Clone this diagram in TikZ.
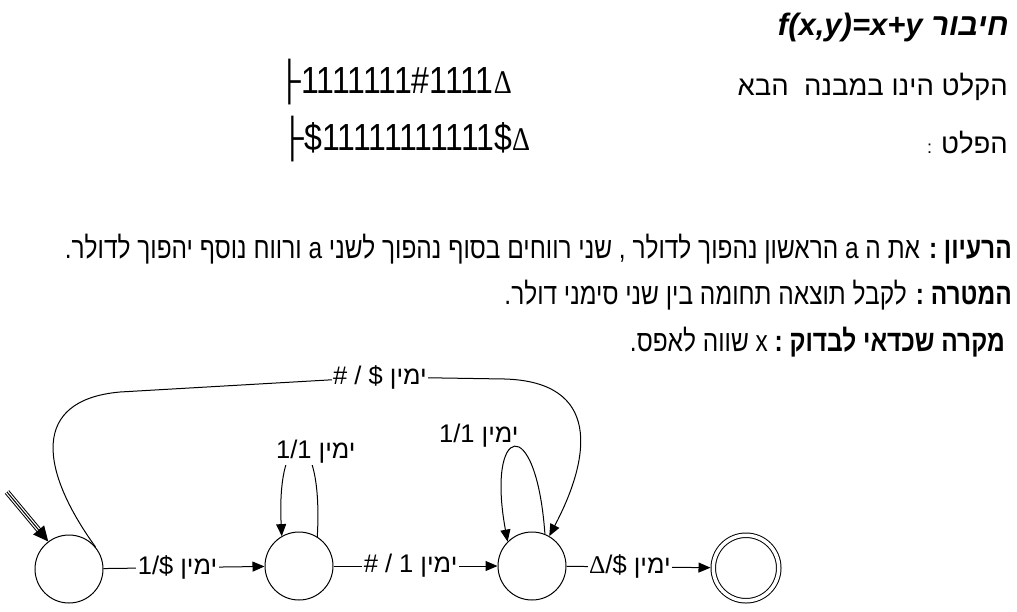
\documentclass[tikz,border=0pt]{standalone}
\usepackage{fontspec}
\usetikzlibrary{arrows.meta}
\setmainfont{Liberation Sans}
\newfontfamily\hebfont[Script=Hebrew]{Liberation Sans}
\newfontfamily\notefont[Script=Hebrew,FakeStretch=0.815]{Liberation Sans}
\newfontfamily\deltafont{Liberation Serif}
\newcommand\dlt{{\deltafont Δ}}
\newcommand\hebr[1]{{\hebfont\beginR #1\endR}}
\TeXXeTstate=1

\begin{document}
\begin{tikzpicture}[x=1pt,y=-1pt,
  state/.style={draw,circle,line width=1pt,minimum size=68pt,inner sep=0pt},
  final/.style={state,double,double distance=3.5pt,minimum size=65.5pt,outer sep=2.75pt},
  move/.style={line width=1pt,-{Triangle[length=12pt,width=10pt]}},
  lbl/.style={fill=white,inner sep=1.5pt,font=\fontsize{25.5}{27}\selectfont},
  head/.style={anchor=base east,inner sep=0pt,font=\hebfont\fontsize{27.5}{30}\selectfont},
  tape/.style={anchor=base west,inner sep=0pt,yscale=1.18,font=\fontsize{32}{34}\selectfont},
  note/.style={anchor=base east,inner sep=0pt,font=\notefont\fontsize{30}{32}\selectfont}]
\useasboundingbox (0,0) rectangle (1017,611);

% header
\node[anchor=base east,inner sep=0pt,font=\bfseries\itshape\fontsize{31}{33}\selectfont] (title) at (1009,35)
  {f(x,y)=x+y \hebr{חיבור}};
\node[head] (inhead) at (1008,95) {\beginR הקלט הינו במבנה\ \ הבא\endR};
\node[tape] (intape) at (278.7,93) {├1111111\#1111{\fontsize{28}{30}\selectfont\dlt}};
\node[head] (outhead) at (1008,153) {\beginR הפלט\hspace{9pt}{\fontsize{18}{18}\selectfont :}\endR};
\node[tape] (outtape) at (281.7,150) {├\$11111111111\${\fontsize{28}{30}\selectfont\dlt}};

% notes
\node[note] (idea) at (1012,258) {\beginR\textbf{הרעיון :} את ה a הראשון נהפוך לדולר , שני רווחים בסוף נהפוך לשני a ורווח נוסף יהפוך לדולר.\endR};
\node[note] (goal) at (1012,304) {\beginR\textbf{המטרה :} לקבל תוצאה תחומה בין שני סימני דולר.\endR};
\node[note] (check) at (1005,351) {\beginR\textbf{מקרה שכדאי לבדוק :}\ x שווה לאפס.\endR};

% machine
\node[state] (q0) at (69,569) {};
\node[state] (q1) at (299,566) {};
\node[state] (q2) at (532,566) {};
\node[final] (q3) at (746,568) {};
\coordinate (init) at (7,492);

\draw[line width=1pt,double distance=3.5pt,shorten >=12pt] (init) -- (q0.127);
\draw[line width=1pt,-{Triangle[length=15pt,width=14pt]}] (init) -- (q0.127);

\draw[move] (q0) -- node[lbl,pos=0.46] {1/\$ \hebr{ימין}} (q1);
\draw[move] (q1) -- node[lbl,pos=0.47] {\# / 1 \hebr{ימין}} (q2);
\draw[move] (q2) -- node[lbl,pos=0.44] {\dlt/\$ \hebr{ימין}} (q3);

\draw[move] (q1.58) .. controls (324,420) and (276,420) ..
  node[lbl,pos=0.5,xshift=16pt,yshift=-3pt] {1/1 \hebr{ימין}} (q1.120);
\draw[move] (q2.68) .. controls (536,410) and (486,425) ..
  node[lbl,fill=none,pos=0.5,xshift=-36pt,yshift=12pt] {1/1 \hebr{ימין}} (q2.135);
\draw[move] (q0.40) .. controls (40,470) and (30,400) .. (120,392) -- (380,377)
  node[lbl] {\# / \$ \hebr{ימין}} -- (505,379)
  .. controls (600,382) and (592,455) .. (q2.60);
\end{tikzpicture}
\end{document}
